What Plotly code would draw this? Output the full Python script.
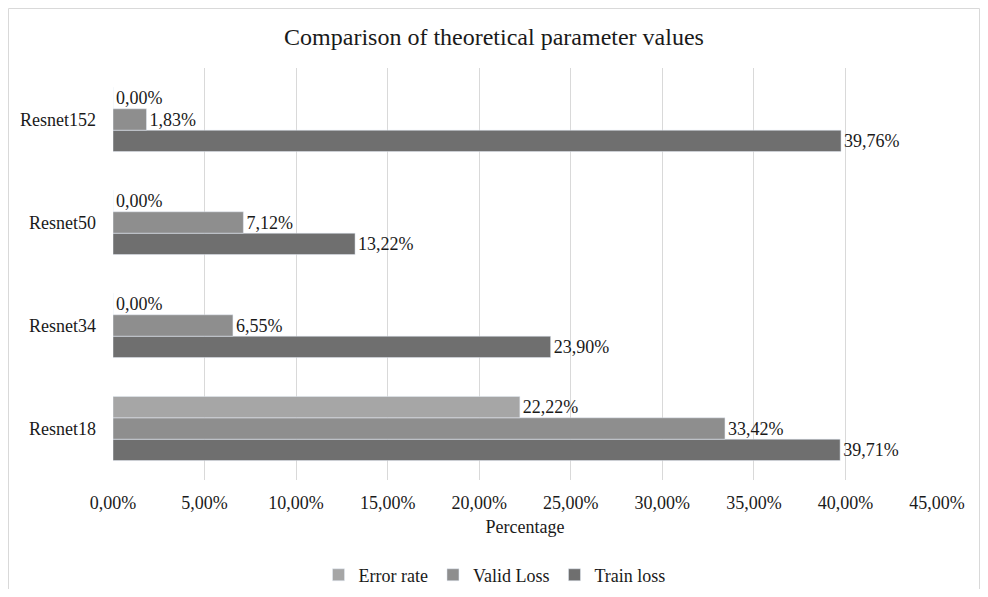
import plotly.graph_objs as go

models = ["Resnet18", "Resnet34", "Resnet50", "Resnet152"]
error_rate = [0.2222, 0.0, 0.0, 0.0]
valid_loss = [0.3342, 0.0655, 0.0712, 0.0183]
train_loss = [0.3971, 0.2390, 0.1322, 0.3976]
x_ticks = [i * 0.05 for i in range(10)]

FONT = "Liberation Serif, Times New Roman, serif"
TXT = "#1a1a1a"

fig = go.Figure()
# plotly stacks horizontal groups bottom-up, so add the bottom bar first
for name, vals, color in [
    ("Train loss", train_loss, "#6f6f6f"),
    ("Valid Loss", valid_loss, "#8e8e8e"),
    ("Error rate", error_rate, "#a6a6a6"),
]:
    fig.add_trace(
        go.Bar(
            x=vals,
            y=models,
            orientation="h",
            name=name,
            marker_color=color,
            texttemplate="%{x:.2%}",
            textposition="outside",
            textfont={"size": 18, "color": TXT, "family": FONT},
            cliponaxis=False,
        )
    )

# page body keeps its 8px margin, so size the figure to fit inside the window
fig.update_layout(
    title={
        "text": "Comparison of theoretical parameter values",
        "x": 0.5,
        "xanchor": "center",
        "y": 0.951,
        "yanchor": "middle",
        "font": {"size": 24, "color": TXT, "family": FONT},
    },
    barmode="group",
    bargap=0.377,
    bargroupgap=0,
    separators=",.",
    width=972,
    height=581,
    margin={"l": 105, "r": 43, "t": 60, "b": 109},
    paper_bgcolor="white",
    plot_bgcolor="white",
    font={"family": FONT, "size": 18, "color": TXT},
    legend={
        "orientation": "h",
        "traceorder": "reversed",
        "x": 0.463,
        "xanchor": "center",
        "yref": "container",
        "y": 0.024,
        "yanchor": "middle",
        "font": {"size": 18, "color": TXT},
        "itemwidth": 30,
    },
    showlegend=True,
)
fig.update_xaxes(
    range=[0, 0.45],
    tickvals=x_ticks,
    tickformat=".2%",
    showgrid=True,
    gridcolor="#d9d9d9",
    zeroline=False,
    showline=False,
    ticks="outside",
    ticklen=6,
    tickcolor="rgba(0,0,0,0)",
    tickfont={"size": 18},
    title={"text": "Percentage", "font": {"size": 18}, "standoff": 8},
)
fig.update_yaxes(
    showgrid=False,
    showline=False,
    ticks="",
    ticklabelstandoff=16,
    tickfont={"size": 18},
)
fig.add_shape(
    type="rect",
    xref="paper",
    yref="paper",
    x0=-0.1268,
    x1=1.0516,
    y0=-0.36,
    y1=1.1444,
    line={"color": "#d9d9d9", "width": 1},
    layer="below",
)

fig.write_html("out.html")
